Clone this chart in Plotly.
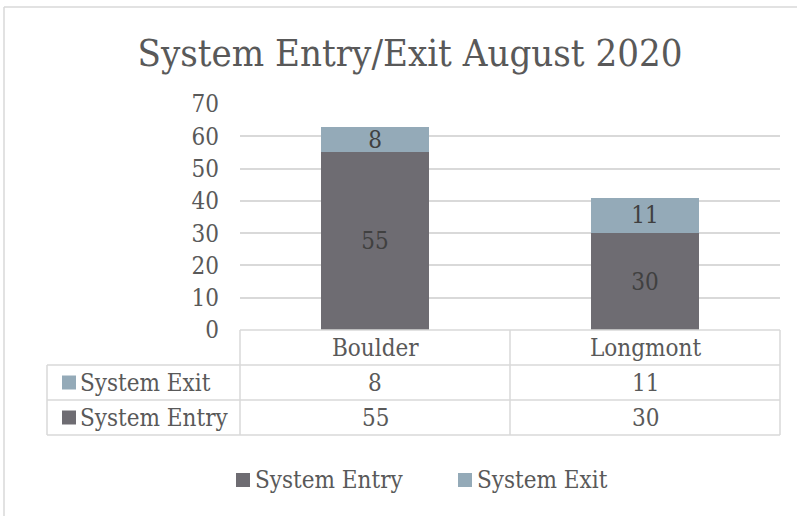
import plotly.graph_objects as go

categories = ["Boulder", "Longmont"]
entry_values = [55, 30]
exit_values = [8, 11]
series_names = ["System Entry", "System Exit"]
title_text = "System Entry/Exit August 2020"
y_ticks = [0, 10, 20, 30, 40, 50, 60, 70]

W, H = 797, 516
ENTRY_C = "#6E6C72"
EXIT_C = "#94AAB8"
TXT = "#595959"
GRID = "#D9D9D9"
FONT = "DejaVu Serif Condensed, DejaVu Serif, serif"
FS = 24

def px(x):
    return x / W

def py(y):
    return 1 - y / H

plot_l, plot_r = 240, 780
plot_top, plot_bot = 104, 330
row_lines = [330, 365, 400, 435]
tbl_left = 47
colors = {series_names[0]: ENTRY_C, series_names[1]: EXIT_C}

fig = go.Figure()
for name, vals in [(series_names[0], entry_values), (series_names[1], exit_values)]:
    fig.add_trace(go.Bar(x=categories, y=vals, name=name, showlegend=False,
                         marker=dict(color=colors[name], line=dict(width=0)),
                         text=vals, textposition="inside", insidetextanchor="middle",
                         textangle=0, constraintext="none",
                         textfont=dict(color="#404040", size=FS, family=FONT)))

shapes = []
line = dict(color=GRID, width=1.5)
shapes.append(dict(type="line", xref="paper", yref="paper", x0=px(4), x1=1.01, y0=py(7), y1=py(7), line=line))
shapes.append(dict(type="line", xref="paper", yref="paper", x0=px(4), x1=px(4), y0=py(7), y1=-0.01, line=line))
shapes.append(dict(type="line", xref="paper", yref="paper", x0=px(plot_l), x1=px(plot_r),
                   y0=py(row_lines[0]), y1=py(row_lines[0]), line=line))
for r in row_lines[1:]:
    shapes.append(dict(type="line", xref="paper", yref="paper", x0=px(tbl_left), x1=px(plot_r),
                       y0=py(r), y1=py(r), line=line))
for xv in [plot_l, (plot_l + plot_r) / 2, plot_r]:
    shapes.append(dict(type="line", xref="paper", yref="paper", x0=px(xv), x1=px(xv),
                       y0=py(row_lines[0]), y1=py(row_lines[3]), line=line))
shapes.append(dict(type="line", xref="paper", yref="paper", x0=px(tbl_left), x1=px(tbl_left),
                   y0=py(row_lines[1]), y1=py(row_lines[3]), line=line))

def swatch(x0, yc, col, size=14):
    return dict(type="rect", xref="paper", yref="paper", x0=px(x0), x1=px(x0 + size),
                y0=py(yc + size / 2), y1=py(yc - size / 2), fillcolor=col, line=dict(width=0))

annotations = []
tfont = dict(family=FONT, size=FS, color=TXT)
rows = [(series_names[1], exit_values), (series_names[0], entry_values)]
for c in categories:
    annotations.append(dict(x=c, xref="x", y=py((row_lines[0] + row_lines[1]) / 2), yref="paper",
                            text=c, showarrow=False, font=tfont, yanchor="middle"))
for i, (nm, vals) in enumerate(rows):
    ycpx = (row_lines[i + 1] + row_lines[i + 2]) / 2
    shapes.append(swatch(62, ycpx, colors[nm]))
    annotations.append(dict(x=px(78), xref="paper", y=py(ycpx), yref="paper", xanchor="left",
                            text=nm, showarrow=False, font=tfont, yanchor="middle"))
    for c, v in zip(categories, vals):
        annotations.append(dict(x=c, xref="x", y=py(ycpx), yref="paper", text=str(v),
                                showarrow=False, font=tfont, yanchor="middle"))

# bottom legend
legend_y = 480
for nm, sx in zip(series_names, [236, 458]):
    shapes.append(swatch(sx, legend_y, colors[nm]))
    annotations.append(dict(x=px(sx + 17), xref="paper", y=py(legend_y), yref="paper", xanchor="left",
                            text=nm, showarrow=False, font=tfont, yanchor="middle"))

fig.update_layout(
    width=W, height=H,
    margin=dict(l=0, r=0, t=0, b=0, autoexpand=False),
    paper_bgcolor="white", plot_bgcolor="white",
    barmode="stack", bargap=0.6,
    title=dict(text=title_text, x=px(410), xanchor="center", y=py(53), yanchor="middle",
               font=dict(family=FONT, size=38, color=TXT)),
    xaxis=dict(domain=[px(plot_l), px(plot_r)], showticklabels=False, showgrid=False,
               zeroline=False, showline=False, range=[-0.5, 1.5], automargin=False),
    yaxis=dict(domain=[py(plot_bot), py(plot_top)], range=[0, 70], tickvals=y_ticks,
               showgrid=True, gridcolor=GRID, gridwidth=1.5, zeroline=False, showline=False,
               automargin=False,
               tickfont=dict(family=FONT, size=FS, color=TXT), ticklabelstandoff=20),
    showlegend=False,
    shapes=shapes, annotations=annotations,
)
fig.write_html("out.html", config={"displayModeBar": False},
               post_script="document.body.style.margin='0';")
